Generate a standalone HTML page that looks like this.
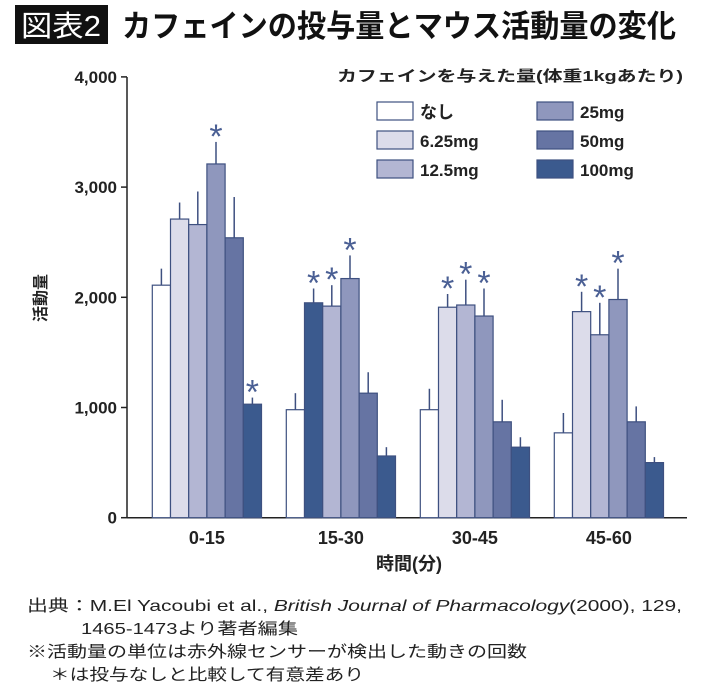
<!DOCTYPE html>
<html><head><meta charset="utf-8"><style>
body{margin:0;background:#fff;}
svg{display:block;font-family:"Liberation Sans","Noto Sans CJK JP",sans-serif;}
</style></head><body>
<svg id="chart" width="710" height="697" viewBox="0 0 710 697">
<rect x="15" y="5" width="93" height="39" fill="#111"/>
<text x="61" y="36" fill="#fff" font-size="29" text-anchor="middle" textLength="80" lengthAdjust="spacingAndGlyphs">図表2</text>
<text x="122" y="37" fill="#111" font-size="31" font-weight="bold" textLength="554" lengthAdjust="spacingAndGlyphs">カフェインの投与量とマウス活動量の変化</text>
<g id="legend">
<text x="337" y="81" font-size="15" font-weight="bold" fill="#222" textLength="346" lengthAdjust="spacingAndGlyphs">カフェインを与えた量(体重1kgあたり)</text>
</g>
<g id="axes"></g>
<g id="bars"></g>
<text transform="translate(46,298) rotate(-90)" font-size="16" font-weight="bold" text-anchor="middle" fill="#222">活動量</text>
<text x="409" y="570" font-size="18" font-weight="bold" text-anchor="middle" fill="#222">時間(分)</text>
<g font-size="16" fill="#222">
<text x="27" y="611" textLength="655" lengthAdjust="spacingAndGlyphs">出典：M.El Yacoubi et al., <tspan font-style="italic">British Journal of Pharmacology</tspan>(2000), 129,</text>
<text x="81" y="634" textLength="217" lengthAdjust="spacingAndGlyphs">1465-1473より著者編集</text>
<text x="27" y="657" textLength="500" lengthAdjust="spacingAndGlyphs">※活動量の単位は赤外線センサーが検出した動きの回数</text>
<text x="50" y="680" textLength="314" lengthAdjust="spacingAndGlyphs">＊は投与なしと比較して有意差あり</text>
</g>
</svg>
<script>
const categories=["0-15","15-30","30-45","45-60"];
const seriesNames=["なし","6.25mg","12.5mg","25mg","50mg","100mg"];
const valNone=[2110,980,980,770];
const val625=[2710,1950,1910,1870];
const val125=[2660,1920,1930,1660];
const val25=[3210,2170,1830,1980];
const val50=[2540,1130,870,870];
const val100=[1030,560,640,500];
const errNone=[2260,1130,1170,950];
const err625=[2860,2080,2030,2050];
const err125=[2960,2110,2160,1950];
const err25=[3410,2380,2080,2260];
const err50=[2910,1320,1070,1010];
const err100=[1090,640,730,550];
const starNone=[0,0,0,0];
const star625=[0,1,1,1];
const star125=[0,1,1,1];
const star25=[1,1,1,1];
const star50=[0,0,0,0];
const star100=[1,0,0,0];
const yTicks=[0,1000,2000,3000,4000];
const yTickLabels=["0","1,000","2,000","3,000","4,000"];

const NS="http://www.w3.org/2000/svg";
const colors=["#ffffff","#dcdcea","#b3b6d3","#8f97bd","#6674a3","#3b5a8e"];
const colorOverride={"1-1":"#3b5a8e"};
const vals=[valNone,val625,val125,val25,val50,val100];
const errs=[errNone,err625,err125,err25,err50,err100];
const stars=[starNone,star625,star125,star25,star50,star100];
const y0=517.7,pxPer=110.2/1000;
function yS(v){return y0-v*pxPer;}
function gX(i){return 152.3+i*134;}
const bw=18.2;
function mk(tag,attrs,parent){const e=document.createElementNS(NS,tag);for(const k in attrs)e.setAttribute(k,attrs[k]);parent.appendChild(e);return e;}
const axes=document.getElementById('axes');
const bars=document.getElementById('bars');
const legend=document.getElementById('legend');
let ax=mk('line',{x1:127,y1:77,x2:127,y2:y0,stroke:"#222","stroke-width":1.5},axes);


let xl=mk('line',{x1:127,y1:y0,x2:687,y2:y0,stroke:"#222","stroke-width":1.5},axes);


yTicks.forEach((t,i)=>{
  const tk=mk('line',{x1:121,y1:yS(t),x2:127,y2:yS(t),stroke:"#222","stroke-width":1.5},axes);
  
  
  const tx=mk('text',{x:117,y:yS(t)+6,"font-size":17,"font-weight":"bold","text-anchor":"end",fill:"#222"},axes);
  tx.textContent=yTickLabels[i];
  
  
});
categories.forEach((c,gi)=>{
  const tx=mk('text',{x:gX(gi)+3*bw,y:544,"font-size":18,"font-weight":"bold","text-anchor":"middle",fill:"#222"},axes);
  tx.textContent=c;
  
  
  for(let s=0;s<6;s++){
    const x=gX(gi)+s*bw;
    const v=vals[s][gi],e=errs[s][gi];
    const ex=x+bw/2;
    const el=mk('line',{x1:ex,y1:yS(e),x2:ex,y2:yS(v),stroke:"#3e5080","stroke-width":1.5},bars);
    
    
    const fill=colorOverride[gi+"-"+s]||colors[s];
    const r=mk('rect',{x:x,y:yS(v),width:bw,height:y0-yS(v),fill:fill,stroke:"#3e5080","stroke-width":1.2},bars);
    
    
    if(stars[s][gi]){
      const st=mk('text',{x:ex,y:yS(e)+6,"font-size":34,"text-anchor":"middle",fill:"#4a5f94"},bars);
      st.textContent="*";
      
      
    }
  }
});
seriesNames.forEach((n,i)=>{
  const col=i<3?0:1,row=i%3;
  const bx=377+col*160,by=102+row*29;
  const r=mk('rect',{x:bx,y:by,width:36,height:18,fill:colors[i],stroke:"#3e5080","stroke-width":1.2},legend);
  
  
  const t=mk('text',{x:bx+43,y:by+16,"font-size":17,"font-weight":"bold",fill:"#222"},legend);
  t.textContent=n;
  
  
});
</script>
</body></html>
